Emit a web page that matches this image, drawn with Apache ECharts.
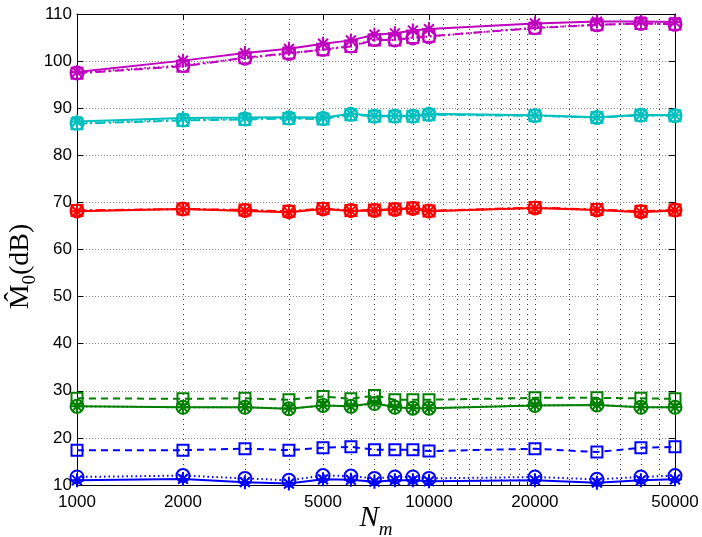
<!DOCTYPE html>
<html>
<head>
<meta charset="utf-8">
<script src="https://cdn.jsdelivr.net/npm/echarts@6/dist/echarts.min.js"></script>
<style>html,body{margin:0;padding:0;background:#fff}#c{width:702px;height:537px}</style>
</head>
<body>
<div id="c"></div>
<script>
// ---- data ----
const N = [1000,2000,3000,4000,5000,6000,7000,8000,9000,10000,20000,30000,40000,50000];
const xTickLabels = [1000,2000,5000,10000,20000,50000];
const xGridValues = [2000,3000,4000,5000,6000,7000,8000,9000,10000,11000,12000,13000,14000,15000,16000,17000,18000,19000,20000,25000,30000,35000,40000,45000];

const magStar = [97.7,100.1,101.7,102.6,103.7,104.4,105.6,105.9,106.5,106.8,108.0,108.4,108.4,108.3];
const magCirc = [97.5,99.1,100.6,101.6,102.5,103.2,104.6,104.5,104.9,105.2,107.1,107.7,108.0,107.8];
const magSq   = [97.4,98.9,100.7,101.7,102.4,103.1,104.5,104.5,105.0,105.3,107.0,107.7,108.0,107.8];

const cyanStar = [87.2,87.9,88.0,88.1,88.0,88.8,88.4,88.4,88.4,88.8,88.5,88.1,88.6,88.5];
const cyanCirc = [86.8,87.5,87.7,87.9,87.8,88.7,88.3,88.3,88.3,88.7,88.4,88.0,88.5,88.4];
const cyanSq   = [86.7,87.4,87.6,87.8,87.7,88.6,88.3,88.3,88.3,88.6,88.4,88.0,88.5,88.4];

const redStar = [68.1,68.6,68.2,67.9,68.6,68.2,68.3,68.5,68.7,68.1,68.8,68.4,67.9,68.3];
const redCirc = [68.2,68.6,68.3,68.0,68.6,68.3,68.3,68.5,68.7,68.2,68.8,68.4,68.0,68.4];
const redSq   = [68.3,68.6,68.4,68.1,68.7,68.3,68.4,68.6,68.8,68.2,68.9,68.5,68.1,68.4];

const greenStar = [26.7,26.5,26.5,26.2,26.9,26.7,27.4,26.5,26.3,26.3,26.9,27.0,26.5,26.5];
const greenCirc = [26.7,26.5,26.5,26.2,26.9,26.7,27.3,26.5,26.3,26.3,26.9,27.0,26.5,26.5];
const greenSq   = [28.4,28.3,28.4,28.1,28.8,28.3,29.0,28.1,28.1,28.1,28.5,28.5,28.4,28.3];

const blueStar = [11.0,11.3,10.6,10.3,11.2,11.1,10.7,11.0,11.0,10.8,11.0,10.5,11.0,11.2];
const blueCirc = [11.7,12.0,11.4,11.0,12.0,11.9,11.4,11.7,11.7,11.4,11.7,11.2,11.7,12.0];
const blueSq   = [17.4,17.4,17.7,17.4,17.9,18.1,17.5,17.5,17.5,17.2,17.7,17.0,17.9,18.1];

// ---- styling ----
const C = {m:'#BF00BF', c:'#00BFBF', r:'#FF0000', g:'#008000', b:'#0000FF'};
const STAR = 'path://M5 0 L5 10 M0 5 L10 5 M1.5 1.5 L8.5 8.5 M8.5 1.5 L1.5 8.5';
const lg = v => Math.log10(v);
const pts = arr => N.map((n,i)=>[lg(n), arr[i]]);
const DASH = [7,5], DASHDOT = [9,4,2,4], DOT = [1.5,3];

function mk(arr, color, kind, lineType){
  const s = {type:'line', data: pts(arr), lineStyle:{color, width:2, type:lineType},
    itemStyle:{color:'rgba(0,0,0,0)', borderColor:color, borderWidth:2}, emphasis:{disabled:true}, animation:false, z:3};
  if(kind==='star'){ s.symbol = STAR; s.symbolSize = 14; }
  else if(kind==='circ'){ s.symbol = 'circle'; s.symbolSize = 13; }
  else { s.symbol = 'rect'; s.symbolSize = 11; }
  return s;
}

const series = [
  mk(magSq, C.m, 'sq', DASHDOT), mk(magCirc, C.m, 'circ', DOT), mk(magStar, C.m, 'star', 'solid'),
  mk(cyanSq, C.c, 'sq', DASHDOT), mk(cyanCirc, C.c, 'circ', DOT), mk(cyanStar, C.c, 'star', 'solid'),
  mk(redSq, C.r, 'sq', DASHDOT), mk(redCirc, C.r, 'circ', DOT), mk(redStar, C.r, 'star', 'solid'),
  mk(greenSq, C.g, 'sq', DASH), mk(greenCirc, C.g, 'circ', DOT), mk(greenStar, C.g, 'star', 'solid'),
  mk(blueSq, C.b, 'sq', DASH), mk(blueCirc, C.b, 'circ', DOT), mk(blueStar, C.b, 'star', 'solid')
];

const xmin = lg(1000), xmax = lg(50000);
const labelFont = {fontFamily:'Liberation Sans, Arial, sans-serif', fontSize:17, color:'#000'};
const axisLine = {show:true, lineStyle:{color:'#000', width:1}};
const SERIF = 'Liberation Serif, DejaVu Serif, serif';

const option = {
  backgroundColor:'#fff',
  animation:false,
  grid:{left:77, right:27, top:14, bottom:52, containLabel:false, outerBoundsMode:'none'},
  xAxis:[
    {type:'value', min:xmin, max:xmax, position:'bottom',
     axisLine, axisTick:{show:true, inside:true, length:6, lineStyle:{color:'#000'}, customValues: xTickLabels.map(lg)},
     axisLabel:Object.assign({show:true, margin:9, customValues: xTickLabels.map(lg), formatter: v => String(Math.round(Math.pow(10,v)))}, labelFont),
     splitLine:{show:false},
     name:'{n|N}{s|m}', nameLocation:'middle', nameGap:19, nameMoveOverlap:false,
     nameTextStyle:{rich:{
       n:{fontFamily:SERIF, fontStyle:'italic', fontSize:29, color:'#000', verticalAlign:'bottom'},
       s:{fontFamily:SERIF, fontStyle:'italic', fontSize:19, color:'#000', verticalAlign:'bottom', padding:[0,0,-6,0]}
     }}
    },
    {type:'value', min:xmin, max:xmax, position:'top',
     axisLine, axisTick:{show:true, inside:true, length:6, lineStyle:{color:'#000'}, customValues: xTickLabels.map(lg)},
     axisLabel:{show:false}, splitLine:{show:false}},
    {type:'value', min:xmin, max:xmax, position:'bottom',
     axisLine:{show:false}, axisTick:{show:true, inside:true, length:3, lineStyle:{color:'#000'}, customValues: xGridValues.map(lg)},
     axisLabel:{show:false},
     splitLine:{show:true, lineStyle:{color:'#333', width:1, type:[1,4]}}}
  ],
  yAxis:[
    {type:'value', min:10, max:110, interval:10, position:'left',
     axisLine, axisTick:{show:true, inside:true, length:6, lineStyle:{color:'#000'}},
     axisLabel:Object.assign({margin:5}, labelFont),
     splitLine:{show:true, lineStyle:{color:'#888', width:1, type:[1,2]}},
     name:'{m|M\u0302}{s|0}{m|(dB)}', nameLocation:'middle', nameGap:42, nameRotate:90, nameMoveOverlap:false,
     nameTextStyle:{padding:[0,34,0,0], rich:{
       m:{fontFamily:SERIF, fontSize:28, color:'#000', verticalAlign:'bottom'},
       s:{fontFamily:SERIF, fontSize:19, color:'#000', verticalAlign:'bottom', padding:[0,0,-5,0]}
     }}
    },
    {type:'value', min:10, max:110, interval:10, position:'right',
     axisLine, axisTick:{show:true, inside:true, length:6, lineStyle:{color:'#000'}},
     axisLabel:{show:false}, splitLine:{show:false}}
  ],
  series: series.map(s => Object.assign(s, {xAxisIndex:0, yAxisIndex:0}))
};

const chart = echarts.init(document.getElementById('c'), null, {renderer:'canvas'});
chart.setOption(option);
</script>
</body>
</html>
